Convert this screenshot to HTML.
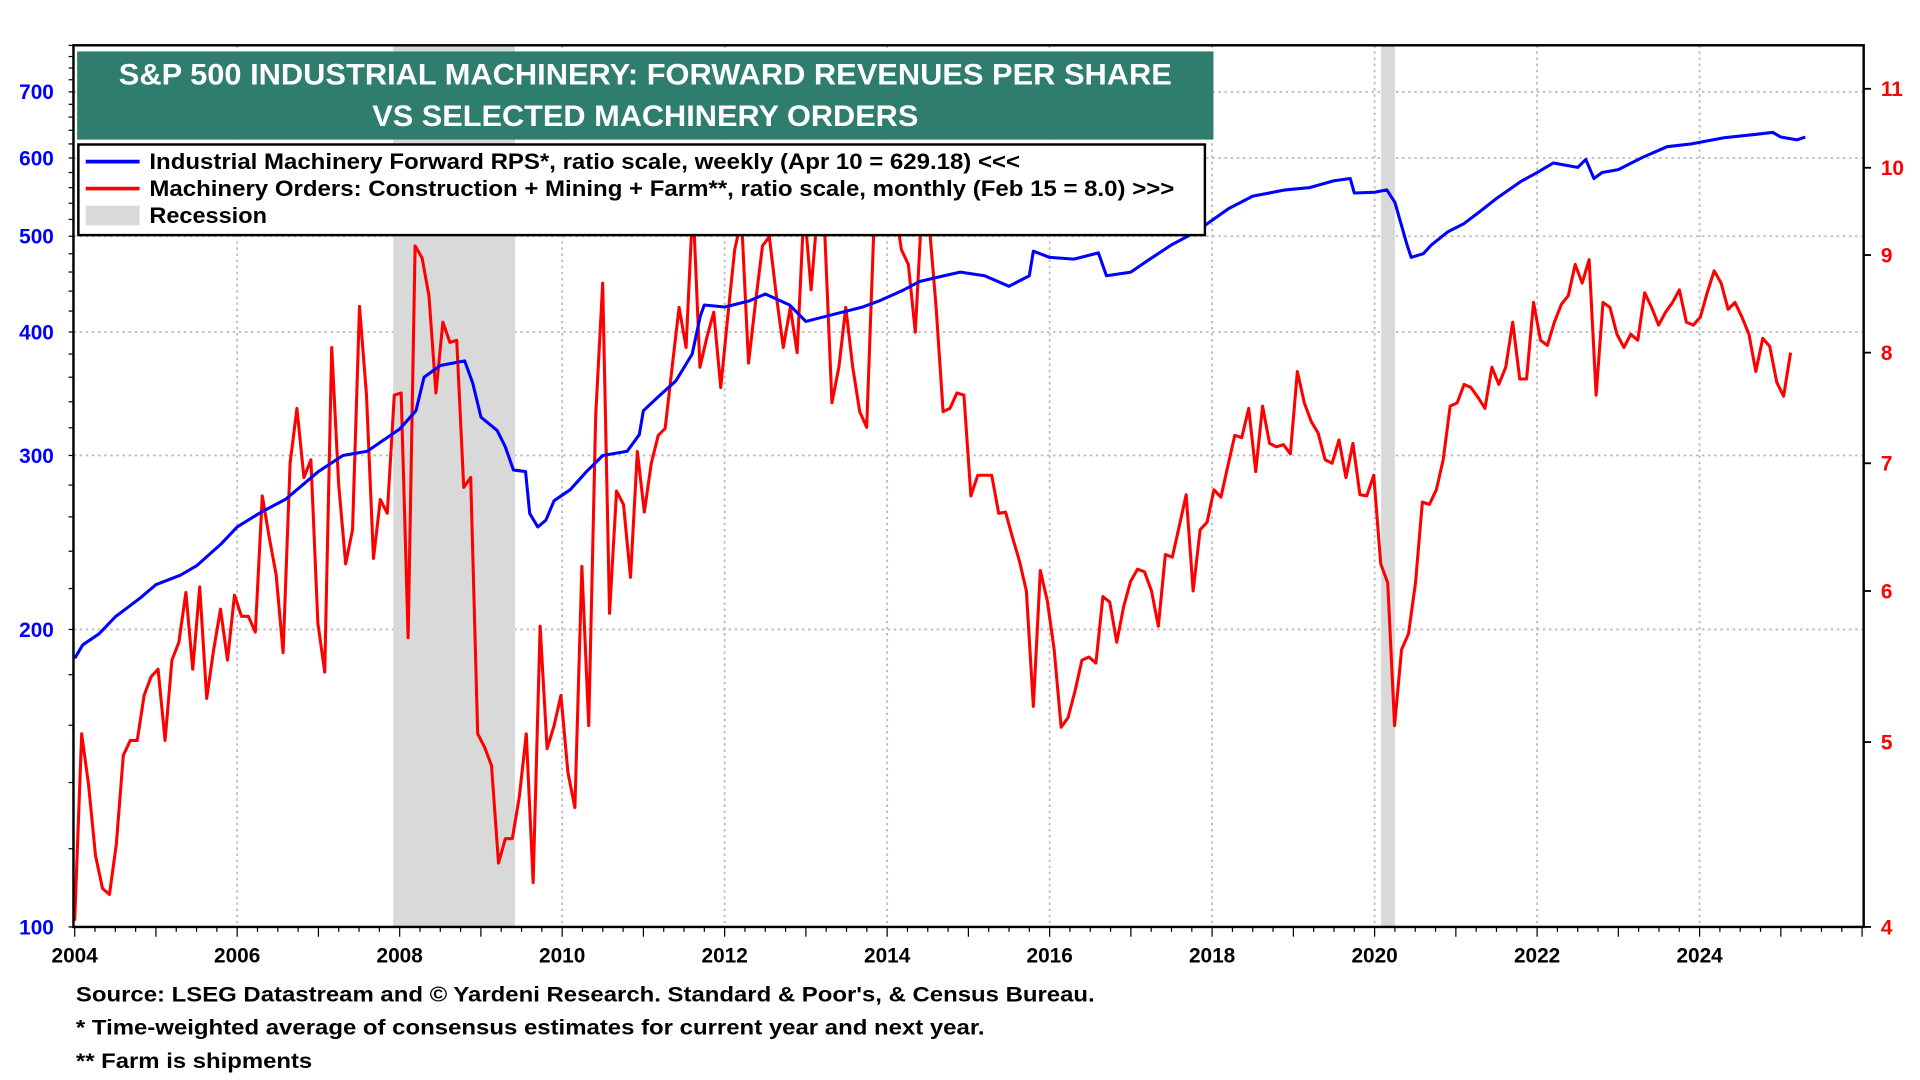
<!DOCTYPE html>
<html><head><meta charset="utf-8">
<style>
html,body{margin:0;padding:0;background:#fff;width:1920px;height:1080px;overflow:hidden}
#wrap{width:1568px;height:882px;transform:scale(1.22449);transform-origin:0 0}
text{font-family:"Liberation Sans",sans-serif;font-weight:bold}
</style></head>
<body>
<div id="wrap">
<svg id="chart" width="1568" height="882" viewBox="0 0 1568 882" xmlns="http://www.w3.org/2000/svg">
<g id="grid"></g>
<g id="recess"></g>
<g id="series"></g>
<rect x="60" y="37" width="1462" height="720" fill="none" stroke="#000" stroke-width="2"/>
<g id="axes"></g>
<g>
<rect x="63" y="42" width="928" height="72" fill="#2f7d6d"/>
<text x="527" y="69" fill="#fff" font-size="24" text-anchor="middle" textLength="860" lengthAdjust="spacingAndGlyphs">S&amp;P 500 INDUSTRIAL MACHINERY: FORWARD REVENUES PER SHARE</text>
<text x="527" y="103" fill="#fff" font-size="24" text-anchor="middle" textLength="446" lengthAdjust="spacingAndGlyphs">VS SELECTED MACHINERY ORDERS</text>
</g>
<g>
<rect x="64" y="118" width="920" height="74" fill="#fff" stroke="#000" stroke-width="2"/>
<g><line x1="70" y1="132" x2="114" y2="132" stroke="#0000ff" stroke-width="3"/><text x="122" y="138" font-size="18" textLength="711" lengthAdjust="spacingAndGlyphs">Industrial Machinery Forward RPS*, ratio scale, weekly (Apr 10 = 629.18) &lt;&lt;&lt;</text></g>
<g><line x1="70" y1="154" x2="114" y2="154" stroke="#ff0000" stroke-width="3"/><text x="122" y="160" font-size="18" textLength="837" lengthAdjust="spacingAndGlyphs">Machinery Orders: Construction + Mining + Farm**, ratio scale, monthly (Feb 15 = 8.0) &gt;&gt;&gt;</text></g>
<g><rect x="70" y="168" width="44" height="16" fill="#d9d9d9"/><text x="122" y="182" font-size="18" textLength="96" lengthAdjust="spacingAndGlyphs">Recession</text></g>
</g>
<g>
<text x="62" y="818" font-size="17" textLength="832" lengthAdjust="spacingAndGlyphs">Source: LSEG Datastream and © Yardeni Research. Standard &amp; Poor's, &amp; Census Bureau.</text>
<text x="62" y="845" font-size="17" textLength="742" lengthAdjust="spacingAndGlyphs">* Time-weighted average of consensus estimates for current year and next year.</text>
<text x="62" y="872" font-size="17" textLength="193" lengthAdjust="spacingAndGlyphs">** Farm is shipments</text>
</g>
</svg>
</div>
<script>
const leftTicks=[100,200,300,400,500,600,700];
const rightTicks=[4,5,6,7,8,9,10,11];
const xTicks=[2004,2006,2008,2010,2012,2014,2016,2018,2020,2022,2024];
const recessions=[[2007.92,2009.42],[2020.08,2020.25]];
const blueYears=[2004.0,2004.1,2004.3,2004.5,2004.8,2005.0,2005.3,2005.5,2005.8,2006.0,2006.3,2006.6,2007.0,2007.3,2007.6,2008.0,2008.2,2008.3,2008.5,2008.8,2008.9,2009.0,2009.2,2009.3,2009.4,2009.55,2009.6,2009.7,2009.8,2009.9,2010.1,2010.3,2010.5,2010.8,2010.95,2011.0,2011.2,2011.4,2011.6,2011.7,2011.75,2012.0,2012.3,2012.5,2012.8,2013.0,2013.3,2013.7,2013.9,2014.2,2014.4,2014.7,2014.9,2015.2,2015.5,2015.75,2015.8,2016.0,2016.3,2016.6,2016.7,2017.0,2017.2,2017.5,2017.8,2018.0,2018.2,2018.5,2018.9,2019.2,2019.5,2019.7,2019.75,2020.0,2020.15,2020.25,2020.4,2020.45,2020.6,2020.7,2020.9,2021.1,2021.3,2021.5,2021.8,2022.0,2022.2,2022.5,2022.6,2022.7,2022.8,2023.0,2023.3,2023.6,2023.9,2024.3,2024.7,2024.9,2025.0,2025.2,2025.3];
const blueValues=[187,193,198,206,215,222,227,232,244,254,263,271,289,300,303,319,333,360,370,374,355,328,318,306,290,289,262,254,258,270,277,289,300,303,315,333,345,357,380,415,426,424,430,437,426,410,416,424,430,441,450,456,460,456,445,456,483,476,474,481,456,460,472,490,505,519,533,549,557,560,569,572,553,554,557,541,490,476,480,490,505,515,530,546,568,580,593,587,598,572,580,584,601,616,620,629,634,637,630,626,630];
const redStart=2004.0, redEnd=2025.12;
const redValues=[4.03,5.05,4.75,4.36,4.19,4.16,4.42,4.92,5.01,5.01,5.29,5.41,5.46,5.01,5.52,5.64,5.99,5.46,6.03,5.27,5.59,5.87,5.52,5.97,5.82,5.82,5.71,6.73,6.40,6.12,5.57,7.0,7.48,6.88,7.03,5.77,5.44,8.05,6.82,6.2,6.46,8.46,7.6,6.24,6.7,6.59,7.6,7.62,5.67,9.1,8.97,8.57,7.62,8.3,8.1,8.12,6.8,6.88,5.05,4.97,4.86,4.32,4.45,4.45,4.68,5.05,4.22,5.75,4.96,5.1,5.29,4.82,4.62,6.18,5.1,7.42,8.70,5.84,6.77,6.66,6.1,7.1,6.6,7.0,7.24,7.3,7.86,8.45,8.05,9.6,7.86,8.15,8.4,7.67,8.35,9.06,9.4,7.9,8.5,9.1,9.2,8.57,8.05,8.45,8.0,9.55,8.63,9.55,9.2,7.53,7.86,8.45,7.86,7.45,7.31,9.2,9.55,9.7,9.6,9.06,8.9,8.2,9.6,9.35,8.45,7.45,7.48,7.62,7.6,6.73,6.9,6.9,6.9,6.59,6.6,6.4,6.22,6.0,5.22,6.15,5.93,5.59,5.09,5.15,5.32,5.52,5.54,5.5,5.96,5.92,5.64,5.89,6.07,6.16,6.14,6.0,5.75,6.27,6.25,6.49,6.74,6.0,6.46,6.52,6.78,6.72,6.98,7.24,7.22,7.48,6.93,7.5,7.17,7.14,7.16,7.08,7.82,7.53,7.36,7.26,7.03,7.0,7.2,6.88,7.17,6.74,6.73,6.9,6.2,6.06,5.1,5.59,5.7,6.06,6.68,6.66,6.78,7.03,7.5,7.53,7.7,7.67,7.58,7.48,7.86,7.7,7.86,8.3,7.75,7.75,8.5,8.12,8.07,8.3,8.48,8.57,8.9,8.7,8.95,7.6,8.5,8.45,8.18,8.05,8.18,8.12,8.6,8.45,8.27,8.4,8.5,8.63,8.3,8.27,8.35,8.6,8.83,8.7,8.43,8.5,8.35,8.18,7.82,8.14,8.06,7.72,7.59,8.0];

const NS="http://www.w3.org/2000/svg";
const X0=61,PX_YR=66.35,YB=757;
const xs=t=>X0+(t-2004)*PX_YR;
const yL=v=>YB-Math.log10(v/100)*807;
const yR=v=>YB-Math.log10(v/4)*1558;
function mk(tag,attrs,parent){const e=document.createElementNS(NS,tag);for(const k in attrs)e.setAttribute(k,attrs[k]);parent.appendChild(e);return e;}
const grid=document.getElementById('grid'),axes=document.getElementById('axes'),rec=document.getElementById('recess'),ser=document.getElementById('series');
const defs=mk('defs',{},document.getElementById('chart'));
const cp=mk('clipPath',{id:'clip'},defs);mk('rect',{x:60,y:37,width:1462,height:720},cp);
ser.setAttribute('clip-path','url(#clip)');
recessions.forEach(r=>{
 const e=mk('rect',{x:xs(r[0]),y:37,width:xs(r[1])-xs(r[0]),height:720,fill:'#d9d9d9'},rec);
 
 
});
leftTicks.forEach(v=>{
 const y=yL(v);
 if(v>100){const g=mk('line',{x1:60,x2:1522,y1:y,y2:y,stroke:'#bbb','stroke-width':1.5,'stroke-dasharray':'2,3'},grid);
 
 }
 const t=mk('text',{x:44,y:y+6,'font-size':17,fill:'#0000ff','text-anchor':'end'},axes);t.textContent=v;
 
 
});
for(let v=100;v<=780;v+=20){const y=yL(v);mk('line',{x1:56,x2:60,y1:y,y2:y,stroke:'#000','stroke-width':1},axes);}
rightTicks.forEach(v=>{
 const y=yR(v);
 mk('line',{x1:1522,x2:1528,y1:y,y2:y,stroke:'#000','stroke-width':1.5},axes);
 const t=mk('text',{x:1536,y:y+6,'font-size':17,fill:'#ff0000'},axes);t.textContent=v;
 
 
});
xTicks.forEach(yr=>{
 const x=xs(yr);
 if(yr>2004){const g=mk('line',{x1:x,x2:x,y1:37,y2:757,stroke:'#bbb','stroke-width':1.5,'stroke-dasharray':'2,3'},grid);
 
 }
 const t=mk('text',{x:x,y:786,'font-size':17,'text-anchor':'middle'},axes);t.textContent=yr;
 
 
});
for(let q=2004;q<=2026;q+=0.25){const x=xs(q);const big=Math.abs(q-Math.round(q))<1e-6;mk('line',{x1:x,x2:x,y1:757,y2:big?765:761,stroke:'#000','stroke-width':1},axes);}
const step=(redEnd-redStart)/(redValues.length-1);
let rp=redValues.map((v,i)=>xs(redStart+i*step).toFixed(1)+','+yR(v).toFixed(1)).join(' ');
const rl=mk('polyline',{points:rp,fill:'none',stroke:'#ff0000','stroke-width':2.5,'stroke-linejoin':'round'},ser);


let bp=blueValues.map((v,i)=>xs(blueYears[i]).toFixed(1)+','+yL(v).toFixed(1)).join(' ');
const bl=mk('polyline',{points:bp,fill:'none',stroke:'#0000ff','stroke-width':2.5,'stroke-linejoin':'round'},ser);


</script>
</body></html>
